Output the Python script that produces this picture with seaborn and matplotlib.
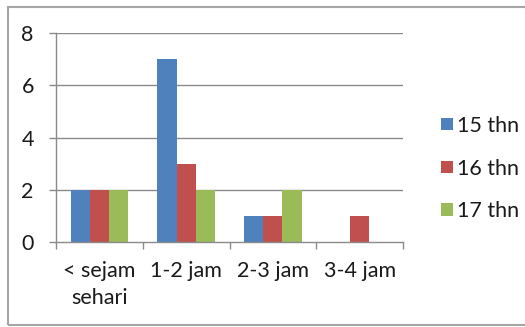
import matplotlib
matplotlib.use("Agg")
import matplotlib.pyplot as plt
from matplotlib.patches import Rectangle, Patch
from matplotlib.ticker import FixedLocator
import seaborn as sns
import pandas as pd

categories = ["< sejam\nsehari", "1-2 jam", "2-3 jam", "3-4 jam"]
series = ["15 thn", "16 thn", "17 thn"]
vals_15 = [2, 7, 1, 0]
vals_16 = [2, 3, 1, 1]
vals_17 = [2, 2, 2, 0]
colors = ["#4F81BD", "#C0504D", "#9BBB59"]
y_ticks = [0, 2, 4, 6, 8]

df = pd.DataFrame({
    "kategori": categories * 3,
    "usia": [s for s in series for _ in categories],
    "jumlah": vals_15 + vals_16 + vals_17,
})

sns.set_theme(style="white")
plt.rcParams["font.family"] = ["Lato", "DejaVu Sans"]

fig = plt.figure(figsize=(5.25, 3.27), dpi=100)
ax = fig.add_axes([56 / 525, 1 - 242 / 327, (403 - 56) / 525, (242 - 33) / 327])

sns.barplot(data=df, x="kategori", y="jumlah", hue="usia", order=categories,
            hue_order=series, palette=colors, width=0.66, saturation=1,
            edgecolor="none", linewidth=0, ax=ax, legend=False)

grid_c = "#8a8a8a"
text_c = "#1a1a1a"
fs = 15.5
ax.set_ylim(0, 8)
ax.set_xlim(-0.5, len(categories) - 0.5)
ax.set_yticks(y_ticks)
ax.set_xlabel("")
ax.set_ylabel("")
for y in y_ticks[1:]:
    ax.axhline(y, color=grid_c, lw=1.0, zorder=0)
ax.set_axisbelow(True)

for s in ["top", "right"]:
    ax.spines[s].set_visible(False)
for s in ["left", "bottom"]:
    ax.spines[s].set_color(grid_c)
    ax.spines[s].set_linewidth(1.0)

ax.tick_params(axis="y", which="major", length=5, width=1, color=grid_c,
               pad=11, labelsize=fs, labelcolor=text_c, left=True)
ax.tick_params(axis="x", which="major", length=0, pad=14, labelsize=fs,
               labelcolor=text_c)
ax.xaxis.set_minor_locator(FixedLocator([i - 0.5 for i in range(len(categories) + 1)]))
ax.tick_params(axis="x", which="minor", length=5, width=1, color=grid_c,
               bottom=True, direction="out")
for lab in ax.get_xticklabels():
    lab.set_linespacing(1.4)
    lab.set_verticalalignment("top")

handles = [Patch(facecolor=c, edgecolor="none", label=s) for c, s in zip(colors, series)]
fig.legend(handles=handles, loc="upper left", bbox_to_anchor=(441 / 525, 1 - 116 / 327),
           frameon=False, fontsize=fs, handlelength=0.54, handleheight=0.5,
           handletextpad=0.2, labelspacing=1.05, borderaxespad=0, borderpad=0,
           labelcolor=text_c)

fig.patches.append(Rectangle((8 / 525, 2 / 327), 1.2, 318 / 327, transform=fig.transFigure,
                             fill=False, edgecolor="#a6a6a6", lw=1.5))

fig.savefig("out.png", dpi=100, facecolor="white")
